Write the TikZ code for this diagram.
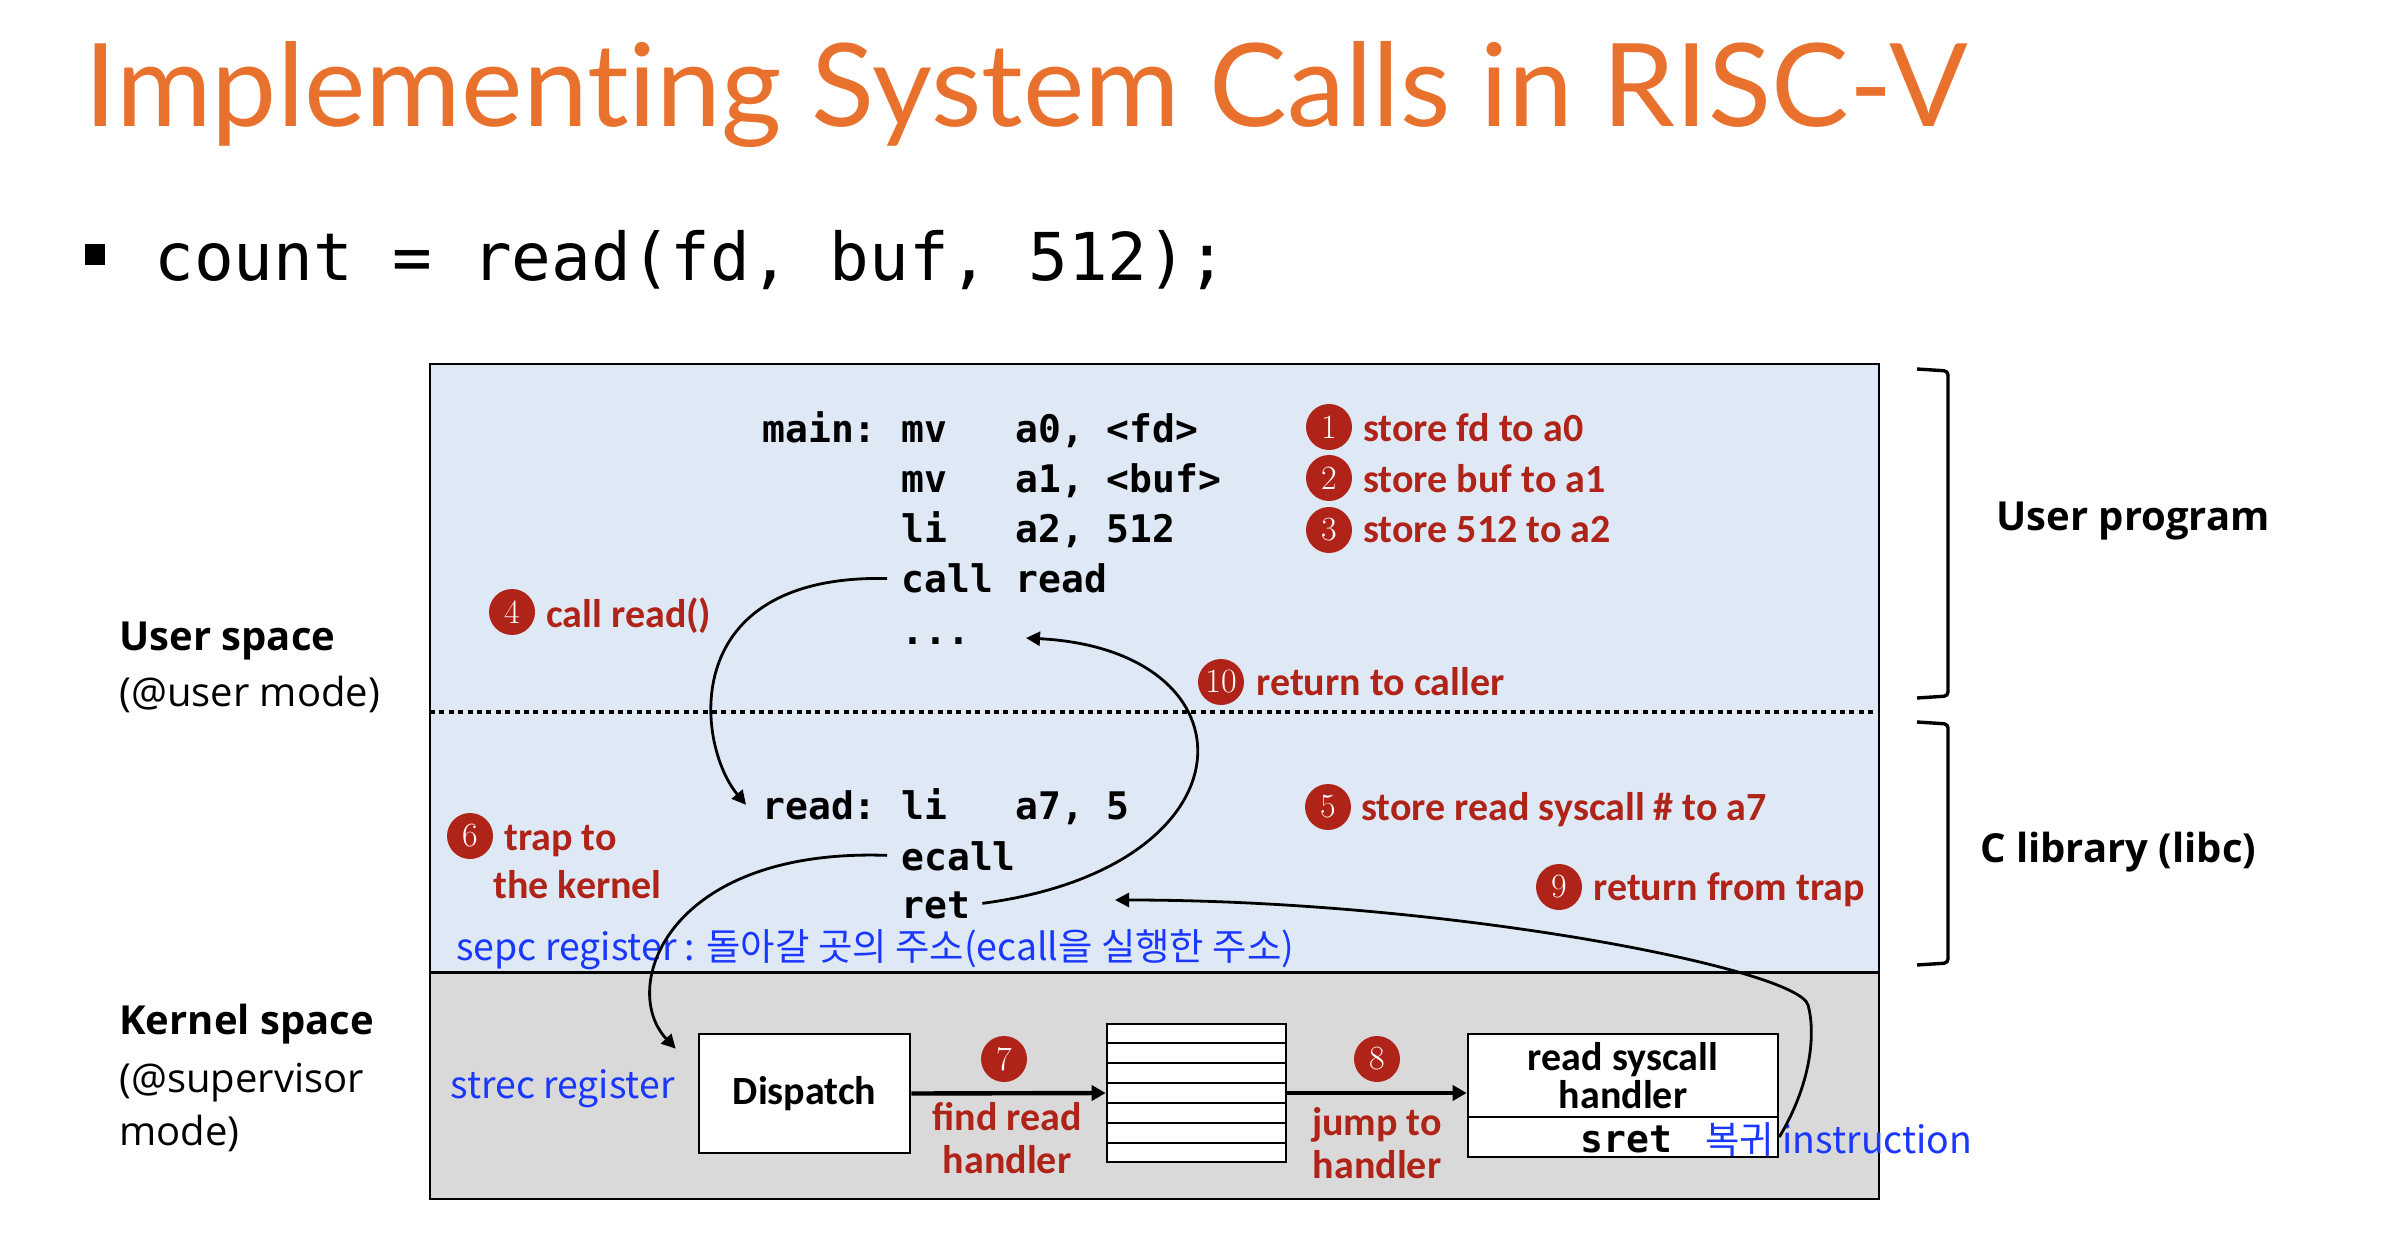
\documentclass[tikz,border=0pt]{standalone}
\usepackage{fontspec}
\usepackage{graphicx}
\usetikzlibrary{arrows.meta,calc}
\newfontfamily\titlefont{Lato}[Ligatures={NoCommon},Contextuals={NoAlternate}]
\newfontfamily\lblfont{Open Sans}
\newfontfamily\redfont{Carlito}
\newfontfamily\codefont{DejaVu Sans Mono}
\newfontfamily\kofont{Noto Sans CJK KR}
\definecolor{ttl}{RGB}{233,113,46}
\definecolor{rd}{RGB}{176,35,24}
\definecolor{bl}{RGB}{25,55,255}
\definecolor{ublue}{RGB}{223,233,245}
\definecolor{kgray}{RGB}{217,217,217}
\begin{document}
\begin{tikzpicture}[x=0.5pt,y=-0.5pt,
  code/.style={anchor=base west, inner sep=0, font=\codefont\bfseries\fontsize{19}{19}\selectfont},
  num/.style={circle, fill=rd, text=white, minimum size=23pt, inner sep=0, font=\fontsize{17}{17}\selectfont},
  rl/.style={anchor=base west, inner sep=0, text=rd, font=\redfont\bfseries\fontsize{20}{20}\selectfont},
  rlc/.style={anchor=base, inner sep=0, text=rd, font=\redfont\bfseries\fontsize{20}{20}\selectfont},
  blt/.style={anchor=base west, inner sep=0, text=bl, font=\kofont\fontsize{18.7}{18.7}\selectfont},
  side/.style={anchor=base west, inner sep=0, font=\lblfont\fontsize{20}{20}\selectfont},
  sideb/.style={anchor=base west, inner sep=0, font=\lblfont\bfseries\fontsize{20}{20}\selectfont},
  wbox/.style={draw, fill=white, line width=1.3pt, inner sep=0, font=\redfont\bfseries\fontsize{20}{20}\selectfont},
  carrow/.style={line width=1.4pt, -{Triangle[length=7pt,width=7pt]}},
  thickarrow/.style={line width=2.2pt, -{Triangle[length=7pt,width=7.5pt]}},
  brk/.style={line width=1.7pt, rounded corners=2pt}
]
\useasboundingbox[fill=white] (0,0) rectangle (2396,1234);

% title and bullet
\node[anchor=base west, inner sep=0, text=ttl] (title) at (84,127)
  {\resizebox{941pt}{42.5pt}{\titlefont Implement\kern0pt ing System Calls in RISC-V}};
\node[fill=black, minimum width=10pt, minimum height=10.5pt, inner sep=0] (bullet) at (95,255) {};
\node[anchor=base west, inner sep=0, font=\codefont\fontsize{33}{33}\selectfont] (stmt) at (154,281)
  {count = read(fd, buf, 512);};

% zones
\fill[ublue] (430,364) rectangle (1879,972);
\fill[kgray] (430,972) rectangle (1879,1199);
\draw[line width=1.5pt] (430,972) -- (1879,972);
\draw[line width=2pt, dash pattern=on 2.5pt off 2.2pt] (430,712) -- (1879,712);
\draw[line width=1.2pt] (430,364) rectangle (1879,1199);

% brackets
\draw[brk] (1917,369) -- (1948,371) -- (1948,696) -- (1917,698);
\draw[brk] (1917,722) -- (1948,724) -- (1948,963) -- (1917,965);
\node[sideb] (uprog) at (1996,531) {User program};
\node[sideb] (clib) at (1980,862) {C library (libc)};

% left labels
\node[sideb] (us1) at (119,650) {User space};
\node[side] (us2) at (119,706) {(@user mode)};
\node[sideb] (ks1) at (119,1034) {Kernel space};
\node[side] (ks2) at (119,1092) {(@supervisor};
\node[side] (ks3) at (119,1145) {mode)};

% code
\node[code] (mainlbl) at (762,443) {main:};
\node[code] (op1) at (901,443) {mv};
\node[code] (ar1) at (1015,443) {a0, <fd>};
\node[code] (op2) at (901,493) {mv};
\node[code] (ar2) at (1015,493) {a1, <buf>};
\node[code] (op3) at (901,543) {li};
\node[code] (ar3) at (1015,543) {a2, 512};
\node[code] (call) at (901,593) {call read};
\node[code] (dots) at (901,644) {...};
\node[code] (rd) at (762,819) {read:};
\node[code] (op5) at (901,819) {li};
\node[code] (ar5) at (1015,819) {a7, 5};
\node[code] (ecall) at (901,870) {ecall};
\node[code] (ret) at (901,918) {ret};

% numbered notes
\node[num] (n1) at (1329,427) {1};
\node[rl] (t1) at (1363,442) {store fd to a0};
\node[num] (n2) at (1329,478) {2};
\node[rl] (t2) at (1363,493) {store buf to a1};
\node[num] (n3) at (1329,530) {3};
\node[rl] (t3) at (1363,543) {store 512 to a2};
\node[num] (n4) at (512,612) {4};
\node[rl] (t4) at (546,627) {call read()};
\node[num] (n10) at (1221,682) {10};
\node[rl] (t10) at (1256,695) {return to caller};
\node[num] (n5) at (1328,807) {5};
\node[rl] (t5) at (1361,820) {store read syscall \# to a7};
\node[num] (n6) at (470,836) {6};
\node[rl] (t6a) at (504,850) {trap to};
\node[rl] (t6b) at (493,898) {the kernel};
\node[num] (n9) at (1559,887) {9};
\node[rl] (t9) at (1593,900) {return from trap};
\node[num] (n7) at (1004,1059) {7};
\node[rlc] (t7a) at (1007,1130) {find read};
\node[rlc] (t7b) at (1007,1173) {handler};
\node[num] (n8) at (1377,1059) {8};
\node[rlc] (t8a) at (1377,1135) {jump to};
\node[rlc] (t8b) at (1377,1178) {handler};

% blue notes
\node[blt] (sepc) at (456,960) {sepc register : 돌아갈 곳의 주소(ecall을 실행한 주소)};
\node[blt] (strec) at (450,1098) {strec register};

% kernel boxes
\node[wbox, minimum width=105.5pt, minimum height=59.5pt] (disp) at (804.5,1093.5) {Dispatch};
\node[wbox, minimum width=89.5pt, minimum height=69pt] (tbl) at (1196.5,1093) {};
\foreach \i in {1,...,6}
  \draw[line width=1pt] ($(tbl.north west)!\i/7!(tbl.south west)$) -- ($(tbl.north east)!\i/7!(tbl.south east)$);
\node[wbox, minimum width=155pt, minimum height=41.5pt, align=center] (hdl) at (1623,1075.5)
  {read syscall\\[-1pt]handler};
\node[wbox, minimum width=155pt, minimum height=20pt] (sretbox) at (1623,1137) {};
\node[code] (sret) at (1580,1152) {sret};
\node[blt] (bokgwi) at (1705,1153) {복귀 instruction};

% connectors
\draw[thickarrow] (disp.east) -- (tbl.west);
\draw[thickarrow] (tbl.east) -- (tbl.east -| hdl.west);

\coordinate (rdin) at ([shift={(-16,0)}]rd.west);
\coordinate (dotin) at (1026,638);
\coordinate (trapin) at ([shift={(-22,16)}]disp.north west);
\coordinate (retin) at (1115,900);
\coordinate (rtc) at (1808,1005);

\draw[carrow, shorten <=7pt] (call.west) .. controls +(-225,-5) and +(-50,-60) .. (rdin);
\draw[carrow, shorten <=6pt] (ret.east) .. controls +(288,-38) and +(234,12) .. (dotin);
\draw[carrow, shorten <=7pt] (ecall.west) .. controls +(-235,-8) and +(-57,-60) .. (trapin);
\draw[carrow] (sretbox.east) .. controls +(34,-57) and +(7,25) .. (rtc)
  .. controls +(-10,-36) and +(335,0) .. (retin);
\end{tikzpicture}
\end{document}
